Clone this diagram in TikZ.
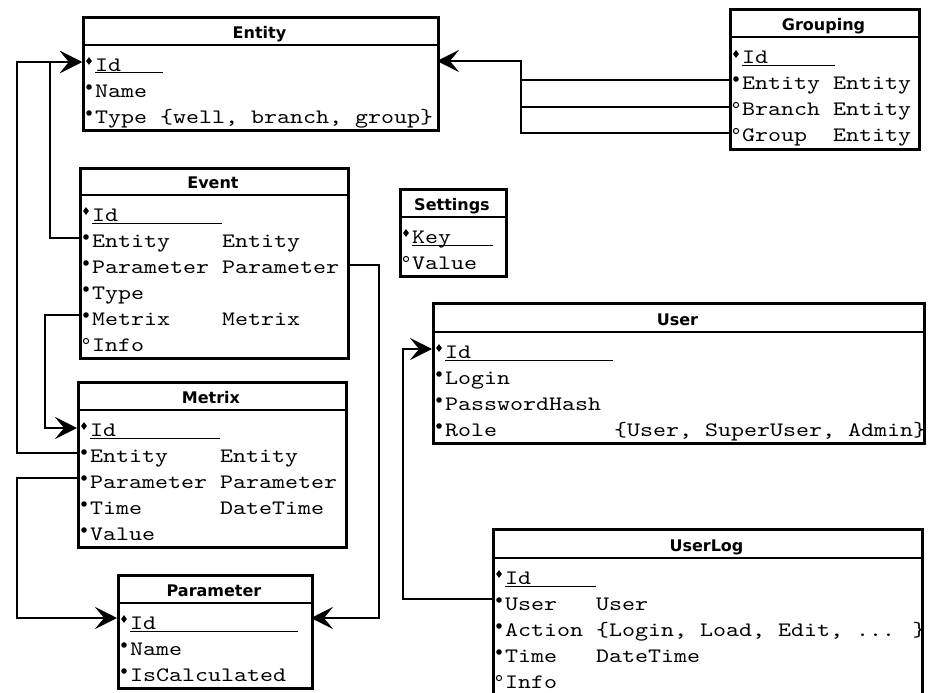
\documentclass[tikz,border=0pt]{standalone}
\usepackage{fontspec}
\newfontfamily\headfont{DejaVu Sans}
\newfontfamily\rowfont{lmmono10-regular.otf}[FakeStretch=1.208]
\usetikzlibrary{arrows.meta,shapes.geometric}
\newlength\cw
\setlength\cw{13pt}
\newcommand\tc[2]{\makebox[#1\cw][l]{#2}}
\tikzset{
  frame/.style={draw, line width=2.9pt, inner sep=0pt, anchor=north west},
  sepline/.style={line width=2.9pt},
  hdr/.style={font=\headfont\bfseries\fontsize{16}{19}\selectfont, anchor=base, inner sep=0pt},
  row/.style={font=\rowfont\fontsize{20.5}{24}\selectfont, anchor=base west, inner sep=0pt},
  uline/.style={line width=1pt},
  conn/.style={line width=2.9pt},
  arr/.style={-{Stealth[length=22pt,width=22pt,inset=9pt]}},
  mkr/.style={circle, fill, inner sep=0pt, minimum size=5.6pt},
  mko/.style={circle, draw, fill=white, line width=1pt, inner sep=0pt, minimum size=5.2pt},
  mkk/.style={diamond, fill, inner sep=0pt, minimum width=6pt, minimum height=8pt},
}
% name, L, T, R, H, B, title
\newcommand\dbtab[7]{%
  \node[frame, minimum width={(#4-#2)*1pt}, minimum height={(#6-#3)*1pt}] (#1) at (#2,#3) {};
  \draw[sepline] (#2,#5) -- (#4,#5);
  \node[hdr] (#1-title) at ({(#2+#4)/2},#5-6.5) {#7};
}
% name, L, center, type, text
\newcommand\fld[5]{%
  \node[row] (#1) at (#2+13,#3+6) {#5};
  \node[mk#4] (#1-m) at (#2+7,#3-4) {};
}
% name, L, center, underline length, text
\newcommand\keyfld[5]{%
  \fld{#1}{#2}{#3}{k}{#5}
  \draw[uline] (#2+13,#3+8) -- ++(#4,0);
}
\begin{document}
\begin{tikzpicture}[x=1pt,y=-1pt]
\useasboundingbox (0,0) rectangle (932,693);
\clip (0,0) rectangle (932,693);

% Entity
\dbtab{entity}{82}{16}{437}{45}{129}{Entity}
\keyfld{en-id}{82}{65}{68}{Id}
\fld{en-name}{82}{91}{r}{Name}
\fld{en-type}{82}{117}{r}{Type \{well, branch, group\}}

% Grouping
\dbtab{grouping}{729}{8}{918}{37}{148}{Grouping}
\keyfld{gr-id}{729}{58}{93}{Id}
\fld{gr-ent}{729}{83}{r}{\tc{7}{Entity}Entity}
\fld{gr-br}{729}{109}{o}{\tc{7}{Branch}Entity}
\fld{gr-gr}{729}{135}{o}{\tc{7}{Group}Entity}

% Event
\dbtab{event}{79}{167}{347}{195}{357}{Event}
\keyfld{ev-id}{79}{215}{130}{Id}
\fld{ev-ent}{79}{241}{r}{\tc{10}{Entity}Entity}
\fld{ev-par}{79}{267}{r}{\tc{10}{Parameter}Parameter}
\fld{ev-type}{79}{293}{r}{Type}
\fld{ev-met}{79}{319}{r}{\tc{10}{Metrix}Metrix}
\fld{ev-info}{79}{345}{o}{Info}

% Settings
\dbtab{settings}{399}{188}{505}{217}{275}{Settings}
\keyfld{se-key}{399}{237}{81}{Key}
\fld{se-val}{399}{263}{o}{Value}

% Metrix
\dbtab{metrix}{77}{381}{345}{410}{546}{Metrix}
\keyfld{me-id}{77}{430}{130}{Id}
\fld{me-ent}{77}{456}{r}{\tc{10}{Entity}Entity}
\fld{me-par}{77}{482}{r}{\tc{10}{Parameter}Parameter}
\fld{me-time}{77}{508}{r}{\tc{10}{Time}DateTime}
\fld{me-val}{77}{534}{r}{Value}

% Parameter
\dbtab{parameter}{117}{574}{311}{603}{687}{Parameter}
\keyfld{pa-id}{117}{623}{168}{Id}
\fld{pa-name}{117}{649}{r}{Name}
\fld{pa-calc}{117}{675}{r}{IsCalculated}

% User
\dbtab{user}{432}{302}{923}{332}{442}{User}
\keyfld{us-id}{432}{352}{168}{Id}
\fld{us-login}{432}{378}{r}{Login}
\fld{us-hash}{432}{404}{r}{PasswordHash}
\fld{us-role}{432}{430}{r}{\tc{13}{Role}\{User, SuperUser, Admin\}}

% UserLog
\dbtab{userlog}{492}{528}{921}{558}{705}{UserLog}
\keyfld{ul-id}{492}{578}{91}{Id}
\fld{ul-user}{492}{604}{r}{\tc{7}{User}User}
\fld{ul-act}{492}{630}{r}{\tc{7}{Action}\{Login, Load, Edit, ... \}}
\fld{ul-time}{492}{656}{r}{\tc{7}{Time}DateTime}
\fld{ul-info}{492}{682}{o}{Info}

% connector ports
\coordinate (c-en-id) at (82,62);
\coordinate (c-en-r) at (437,61);
\coordinate (c-ev-ent) at (79,238);
\coordinate (c-ev-par) at (347,265);
\coordinate (c-ev-met) at (79,315);
\coordinate (c-me-id) at (77,428);
\coordinate (c-me-ent) at (77,453);
\coordinate (c-me-par) at (77,478);
\coordinate (c-pa-l) at (117,618);
\coordinate (c-pa-r) at (311,618);
\coordinate (c-gr-ent) at (729,80);
\coordinate (c-gr-br) at (729,107);
\coordinate (c-gr-gr) at (729,133);
\coordinate (c-us-id) at (432,349);
\coordinate (c-ul-user) at (492,599);

% connectors
\draw[conn,arr] (c-ev-ent) -| (50,62) -- (c-en-id);
\draw[conn,arr] (c-me-ent) -| (17,62) -- (c-en-id);
\draw[conn,arr] (c-ev-met) -| (45,428) -- (c-me-id);
\draw[conn,arr] (c-ev-par) -| (379,618) -- (c-pa-r);
\draw[conn,arr] (c-me-par) -| (17,618) -- (c-pa-l);
\draw[conn,arr] (c-gr-gr) -| (521,61) -- (c-en-r);
\draw[conn] (c-gr-br) -- (521,107);
\draw[conn] (c-gr-ent) -- (521,80);
\draw[conn,arr] (c-ul-user) -| (403,349) -- (c-us-id);
\end{tikzpicture}
\end{document}
